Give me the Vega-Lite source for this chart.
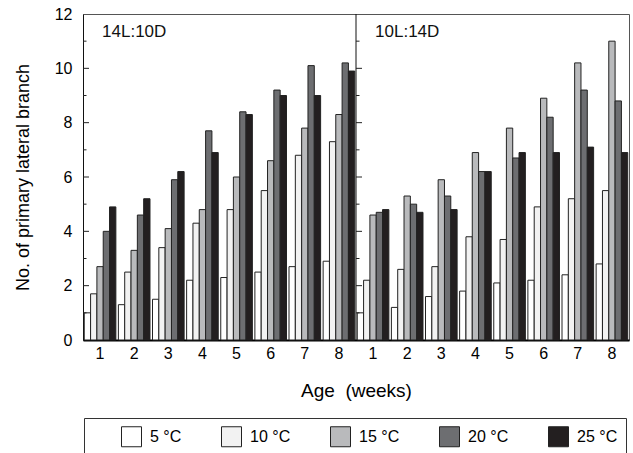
{
  "$schema": "https://vega.github.io/schema/vega-lite/v6.json",
  "width": 546,
  "height": 326,
  "autosize": "none",
  "padding": {"left": 83, "top": 14, "right": 4, "bottom": 113},
  "background": "white",
  "config": {
    "font": "Liberation Sans",
    "view": {"stroke": "#555", "strokeWidth": 1}
  },
  "datasets": {
    "bars": [
      {"panel": "14L:10D", "slot": "L1", "temp": "5 °C", "value": 1.0},
      {"panel": "14L:10D", "slot": "L1", "temp": "10 °C", "value": 1.7},
      {"panel": "14L:10D", "slot": "L1", "temp": "15 °C", "value": 2.7},
      {"panel": "14L:10D", "slot": "L1", "temp": "20 °C", "value": 4.0},
      {"panel": "14L:10D", "slot": "L1", "temp": "25 °C", "value": 4.9},
      {"panel": "14L:10D", "slot": "L2", "temp": "5 °C", "value": 1.3},
      {"panel": "14L:10D", "slot": "L2", "temp": "10 °C", "value": 2.5},
      {"panel": "14L:10D", "slot": "L2", "temp": "15 °C", "value": 3.3},
      {"panel": "14L:10D", "slot": "L2", "temp": "20 °C", "value": 4.6},
      {"panel": "14L:10D", "slot": "L2", "temp": "25 °C", "value": 5.2},
      {"panel": "14L:10D", "slot": "L3", "temp": "5 °C", "value": 1.5},
      {"panel": "14L:10D", "slot": "L3", "temp": "10 °C", "value": 3.4},
      {"panel": "14L:10D", "slot": "L3", "temp": "15 °C", "value": 4.1},
      {"panel": "14L:10D", "slot": "L3", "temp": "20 °C", "value": 5.9},
      {"panel": "14L:10D", "slot": "L3", "temp": "25 °C", "value": 6.2},
      {"panel": "14L:10D", "slot": "L4", "temp": "5 °C", "value": 2.2},
      {"panel": "14L:10D", "slot": "L4", "temp": "10 °C", "value": 4.3},
      {"panel": "14L:10D", "slot": "L4", "temp": "15 °C", "value": 4.8},
      {"panel": "14L:10D", "slot": "L4", "temp": "20 °C", "value": 7.7},
      {"panel": "14L:10D", "slot": "L4", "temp": "25 °C", "value": 6.9},
      {"panel": "14L:10D", "slot": "L5", "temp": "5 °C", "value": 2.3},
      {"panel": "14L:10D", "slot": "L5", "temp": "10 °C", "value": 4.8},
      {"panel": "14L:10D", "slot": "L5", "temp": "15 °C", "value": 6.0},
      {"panel": "14L:10D", "slot": "L5", "temp": "20 °C", "value": 8.4},
      {"panel": "14L:10D", "slot": "L5", "temp": "25 °C", "value": 8.3},
      {"panel": "14L:10D", "slot": "L6", "temp": "5 °C", "value": 2.5},
      {"panel": "14L:10D", "slot": "L6", "temp": "10 °C", "value": 5.5},
      {"panel": "14L:10D", "slot": "L6", "temp": "15 °C", "value": 6.6},
      {"panel": "14L:10D", "slot": "L6", "temp": "20 °C", "value": 9.2},
      {"panel": "14L:10D", "slot": "L6", "temp": "25 °C", "value": 9.0},
      {"panel": "14L:10D", "slot": "L7", "temp": "5 °C", "value": 2.7},
      {"panel": "14L:10D", "slot": "L7", "temp": "10 °C", "value": 6.8},
      {"panel": "14L:10D", "slot": "L7", "temp": "15 °C", "value": 7.8},
      {"panel": "14L:10D", "slot": "L7", "temp": "20 °C", "value": 10.1},
      {"panel": "14L:10D", "slot": "L7", "temp": "25 °C", "value": 9.0},
      {"panel": "14L:10D", "slot": "L8", "temp": "5 °C", "value": 2.9},
      {"panel": "14L:10D", "slot": "L8", "temp": "10 °C", "value": 7.3},
      {"panel": "14L:10D", "slot": "L8", "temp": "15 °C", "value": 8.3},
      {"panel": "14L:10D", "slot": "L8", "temp": "20 °C", "value": 10.2},
      {"panel": "14L:10D", "slot": "L8", "temp": "25 °C", "value": 9.9},
      {"panel": "10L:14D", "slot": "S1", "temp": "5 °C", "value": 1.0},
      {"panel": "10L:14D", "slot": "S1", "temp": "10 °C", "value": 2.2},
      {"panel": "10L:14D", "slot": "S1", "temp": "15 °C", "value": 4.6},
      {"panel": "10L:14D", "slot": "S1", "temp": "20 °C", "value": 4.7},
      {"panel": "10L:14D", "slot": "S1", "temp": "25 °C", "value": 4.8},
      {"panel": "10L:14D", "slot": "S2", "temp": "5 °C", "value": 1.2},
      {"panel": "10L:14D", "slot": "S2", "temp": "10 °C", "value": 2.6},
      {"panel": "10L:14D", "slot": "S2", "temp": "15 °C", "value": 5.3},
      {"panel": "10L:14D", "slot": "S2", "temp": "20 °C", "value": 5.0},
      {"panel": "10L:14D", "slot": "S2", "temp": "25 °C", "value": 4.7},
      {"panel": "10L:14D", "slot": "S3", "temp": "5 °C", "value": 1.6},
      {"panel": "10L:14D", "slot": "S3", "temp": "10 °C", "value": 2.7},
      {"panel": "10L:14D", "slot": "S3", "temp": "15 °C", "value": 5.9},
      {"panel": "10L:14D", "slot": "S3", "temp": "20 °C", "value": 5.3},
      {"panel": "10L:14D", "slot": "S3", "temp": "25 °C", "value": 4.8},
      {"panel": "10L:14D", "slot": "S4", "temp": "5 °C", "value": 1.8},
      {"panel": "10L:14D", "slot": "S4", "temp": "10 °C", "value": 3.8},
      {"panel": "10L:14D", "slot": "S4", "temp": "15 °C", "value": 6.9},
      {"panel": "10L:14D", "slot": "S4", "temp": "20 °C", "value": 6.2},
      {"panel": "10L:14D", "slot": "S4", "temp": "25 °C", "value": 6.2},
      {"panel": "10L:14D", "slot": "S5", "temp": "5 °C", "value": 2.1},
      {"panel": "10L:14D", "slot": "S5", "temp": "10 °C", "value": 3.7},
      {"panel": "10L:14D", "slot": "S5", "temp": "15 °C", "value": 7.8},
      {"panel": "10L:14D", "slot": "S5", "temp": "20 °C", "value": 6.7},
      {"panel": "10L:14D", "slot": "S5", "temp": "25 °C", "value": 6.9},
      {"panel": "10L:14D", "slot": "S6", "temp": "5 °C", "value": 2.2},
      {"panel": "10L:14D", "slot": "S6", "temp": "10 °C", "value": 4.9},
      {"panel": "10L:14D", "slot": "S6", "temp": "15 °C", "value": 8.9},
      {"panel": "10L:14D", "slot": "S6", "temp": "20 °C", "value": 8.2},
      {"panel": "10L:14D", "slot": "S6", "temp": "25 °C", "value": 6.9},
      {"panel": "10L:14D", "slot": "S7", "temp": "5 °C", "value": 2.4},
      {"panel": "10L:14D", "slot": "S7", "temp": "10 °C", "value": 5.2},
      {"panel": "10L:14D", "slot": "S7", "temp": "15 °C", "value": 10.2},
      {"panel": "10L:14D", "slot": "S7", "temp": "20 °C", "value": 9.2},
      {"panel": "10L:14D", "slot": "S7", "temp": "25 °C", "value": 7.1},
      {"panel": "10L:14D", "slot": "S8", "temp": "5 °C", "value": 2.8},
      {"panel": "10L:14D", "slot": "S8", "temp": "10 °C", "value": 5.5},
      {"panel": "10L:14D", "slot": "S8", "temp": "15 °C", "value": 11.0},
      {"panel": "10L:14D", "slot": "S8", "temp": "20 °C", "value": 8.8},
      {"panel": "10L:14D", "slot": "S8", "temp": "25 °C", "value": 6.9}
    ],
    "ticks": [
      {"slot": "L1", "y": 1, "major": false}, {"slot": "L1", "y": 2, "major": true},
      {"slot": "L1", "y": 3, "major": false}, {"slot": "L1", "y": 4, "major": true},
      {"slot": "L1", "y": 5, "major": false}, {"slot": "L1", "y": 6, "major": true},
      {"slot": "L1", "y": 7, "major": false}, {"slot": "L1", "y": 8, "major": true},
      {"slot": "L1", "y": 9, "major": false}, {"slot": "L1", "y": 10, "major": true},
      {"slot": "L1", "y": 11, "major": false},
      {"slot": "S1", "y": 1, "major": false}, {"slot": "S1", "y": 2, "major": true},
      {"slot": "S1", "y": 3, "major": false}, {"slot": "S1", "y": 4, "major": true},
      {"slot": "S1", "y": 5, "major": false}, {"slot": "S1", "y": 6, "major": true},
      {"slot": "S1", "y": 7, "major": false}, {"slot": "S1", "y": 8, "major": true},
      {"slot": "S1", "y": 9, "major": false}, {"slot": "S1", "y": 10, "major": true},
      {"slot": "S1", "y": 11, "major": false}
    ],
    "panels": [
      {"slot": "L1", "label": "14L:10D"},
      {"slot": "S1", "label": "10L:14D"}
    ]
  },
  "layer": [
    {
      "data": {"name": "bars"},
      "mark": {"type": "bar", "stroke": "#222", "strokeWidth": 1},
      "encoding": {
        "x": {
          "field": "slot", "type": "nominal",
          "scale": {"domain": ["L1","L2","L3","L4","L5","L6","L7","L8","S1","S2","S3","S4","S5","S6","S7","S8"], "paddingInner": 0, "paddingOuter": 0},
          "axis": {
            "title": "Age \u00a0(weeks)",
            "labelExpr": "substring(datum.label, 1)",
            "labelAngle": 0,
            "ticks": false,
            "domainWidth": 2,
            "domainColor": "black",
            "labelFontSize": 16,
            "labelColor": "black",
            "labelPadding": 5,
            "titleFontSize": 19,
            "titleFontWeight": "normal",
            "titleColor": "black",
            "titlePadding": 20
          }
        },
        "xOffset": {
          "field": "temp", "type": "nominal",
          "scale": {"domain": ["5 °C","10 °C","15 °C","20 °C","25 °C"], "paddingInner": 0, "paddingOuter": 0.2}
        },
        "y": {
          "field": "value", "type": "quantitative",
          "scale": {"domain": [0, 12], "nice": false},
          "axis": {
            "title": "No. of primary lateral branch",
            "values": [0, 2, 4, 6, 8, 10, 12],
            "ticks": false,
            "grid": false,
            "domainColor": "#111",
            "labelFontSize": 16,
            "labelColor": "black",
            "labelPadding": 11,
            "titleFontSize": 18,
            "titleFontWeight": "normal",
            "titleColor": "black",
            "titlePadding": 22
          }
        },
        "fill": {
          "field": "temp", "type": "nominal",
          "scale": {"domain": ["5 °C","10 °C","15 °C","20 °C","25 °C"], "range": ["#ffffff","#f2f2f2","#b9babc","#6d6e71","#231f20"]},
          "legend": {
            "orient": "none",
            "legendX": 1,
            "legendY": 404,
            "direction": "horizontal",
            "columns": 5,
            "title": " ",
            "titleOrient": "left",
            "titlePadding": 29,
            "titleFontSize": 10,
            "padding": 8,
            "strokeColor": "#333",
            "symbolType": "square",
            "symbolSize": 400,
            "symbolStrokeColor": "#222",
            "symbolStrokeWidth": 1,
            "symbolOpacity": 1,
            "labelFontSize": 16,
            "labelColor": "black",
            "labelOffset": 8,
            "columnPadding": 37
          }
        }
      }
    },
    {
      "data": {"values": [{"slot": "S1"}]},
      "mark": {"type": "rule", "color": "#111", "strokeWidth": 1},
      "encoding": {
        "x": {"field": "slot", "type": "nominal", "bandPosition": 0}
      }
    },
    {
      "data": {"name": "ticks"},
      "transform": [{"filter": "datum.major"}],
      "mark": {"type": "rule", "color": "#222", "strokeWidth": 1, "x2Offset": 6},
      "encoding": {
        "x": {"field": "slot", "type": "nominal", "bandPosition": 0},
        "x2": {"field": "slot", "bandPosition": 0},
        "y": {"field": "y", "type": "quantitative"}
      }
    },
    {
      "data": {"name": "ticks"},
      "transform": [{"filter": "!datum.major"}],
      "mark": {"type": "rule", "color": "#222", "strokeWidth": 1, "x2Offset": 3.5},
      "encoding": {
        "x": {"field": "slot", "type": "nominal", "bandPosition": 0},
        "x2": {"field": "slot", "bandPosition": 0},
        "y": {"field": "y", "type": "quantitative"}
      }
    },
    {
      "data": {"name": "panels"},
      "mark": {"type": "text", "align": "left", "baseline": "middle", "fontSize": 17, "dx": 2, "color": "#111"},
      "encoding": {
        "x": {"field": "slot", "type": "nominal"},
        "y": {"datum": 11.35},
        "text": {"field": "label"}
      }
    }
  ]
}
